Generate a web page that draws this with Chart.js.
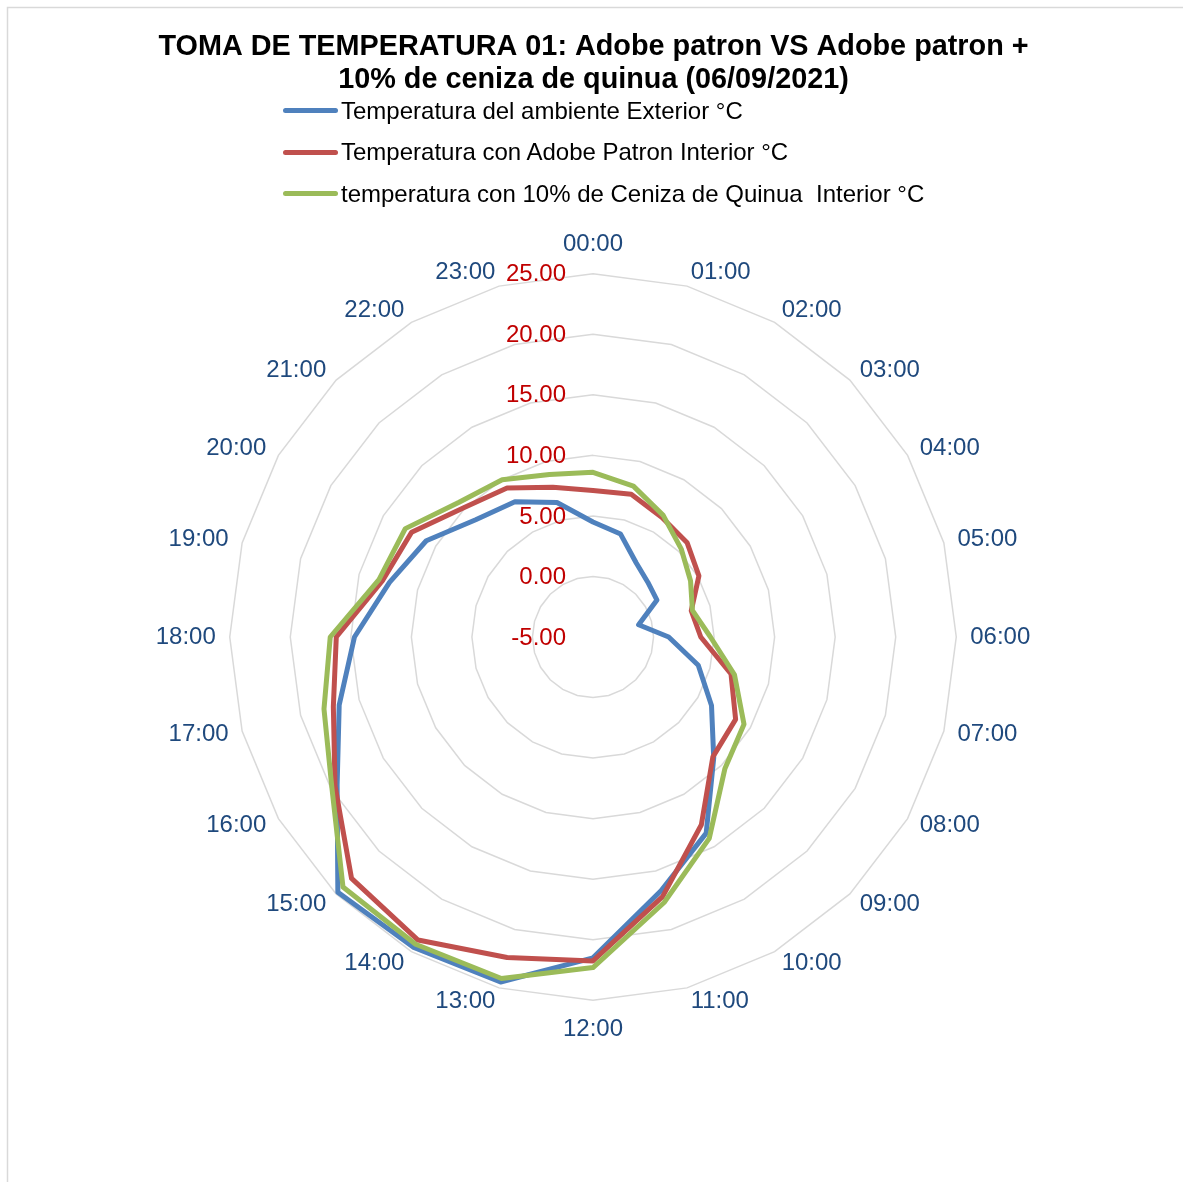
<!DOCTYPE html>
<html>
<head>
<meta charset="utf-8">
<script src="https://cdn.jsdelivr.net/npm/chart.js@4/dist/chart.umd.min.js"></script>
<style>
  html, body { margin: 0; padding: 0; background: #fff; }
  #wrap { position: relative; width: 1183px; height: 1182px; }
  #c { display: block; }
  #legend { position: absolute; left: 283px; top: 90px; font-family: "Liberation Sans", Arial, sans-serif; font-size: 24px; color: #000; }
  #legend .item { display: flex; align-items: center; height: 41.5px; white-space: pre; }
  #legend .swatch { width: 55px; height: 5px; border-radius: 3px; margin-right: 3px; }
</style>
</head>
<body>
<div id="wrap">
  <canvas id="c" width="1183" height="1182"></canvas>
  <div id="legend"></div>
</div>
<script>
// ---- data ----
const hours = ["00:00","01:00","02:00","03:00","04:00","05:00","06:00","07:00","08:00","09:00","10:00","11:00",
               "12:00","13:00","14:00","15:00","16:00","17:00","18:00","19:00","20:00","21:00","22:00","23:00"];
const exterior = [4.5, 3.8, 2.1, 1.4, 1.1, -1.1, 1.25, 4.0, 6.3, 9.1, 13.7, 16.7,
                  21.5, 24.5, 24.6, 24.8, 19.4, 16.7, 14.7, 12.4, 10.9, 8.7, 7.9, 6.5];
const adobePatron = [7.1, 7.2, 6.4, 6.0, 5.1, 3.4, 3.9, 6.8, 8.6, 9.0, 12.9, 17.2,
                     21.75, 22.4, 23.9, 23.2, 19.6, 17.2, 16.2, 13.0, 12.3, 10.1, 9.2, 7.8];
const cenizaQuinua = [8.6, 7.9, 6.6, 5.3, 4.3, 3.5, 4.7, 7.1, 9.4, 10.4, 14.2, 17.7,
                      22.3, 24.2, 24.3, 24.2, 19.9, 18.0, 16.7, 13.3, 12.9, 10.7, 10.0, 8.9];
const seriesNames = ["Temperatura del ambiente Exterior °C",
                     "Temperatura con Adobe Patron Interior °C",
                     "temperatura con 10% de Ceniza de Quinua  Interior °C"];
const titleLines = ["TOMA DE TEMPERATURA 01: Adobe patron VS Adobe patron +",
                    "10% de ceniza de quinua (06/09/2021)"];
const scaleMin = -5, scaleMax = 25, scaleStep = 5;

const FONT = '"Liberation Sans", Arial, sans-serif';
const colors = ["#4F81BD", "#C0504D", "#9BBB59"];

const borderPlugin = {
  id: 'frame',
  beforeDraw(chart) {
    const ctx = chart.ctx;
    ctx.save();
    ctx.fillStyle = '#fff';
    ctx.fillRect(0, 0, chart.width, chart.height);
    ctx.strokeStyle = '#D9D9D9';
    ctx.lineWidth = 1.5;
    ctx.beginPath();
    ctx.moveTo(7.5, chart.height + 2);
    ctx.lineTo(7.5, 7.5);
    ctx.lineTo(chart.width + 2, 7.5);
    ctx.stroke();
    ctx.restore();
  }
};

const tickLabelPlugin = {
  id: 'tickLabels',
  afterDatasetsDraw(chart) {
    const s = chart.scales.r;
    const ctx = chart.ctx;
    ctx.save();
    ctx.font = '24px ' + FONT;
    ctx.fillStyle = '#C00000';
    ctx.textAlign = 'right';
    ctx.textBaseline = 'middle';
    s.ticks.forEach(t => {
      const d = s.getDistanceFromCenterForValue(t.value);
      ctx.fillText(Number(t.value).toFixed(2), s.xCenter - 27, s.yCenter - d + 1);
    });
    ctx.restore();
  }
};

const htmlLegendPlugin = {
  id: 'htmlLegend',
  afterUpdate(chart) {
    const box = document.getElementById('legend');
    box.innerHTML = '';
    chart.data.datasets.forEach(ds => {
      const item = document.createElement('div');
      item.className = 'item';
      const sw = document.createElement('span');
      sw.className = 'swatch';
      sw.style.background = ds.borderColor;
      const tx = document.createElement('span');
      tx.textContent = ds.label;
      item.appendChild(sw);
      item.appendChild(tx);
      box.appendChild(item);
    });
  }
};

const values = [exterior, adobePatron, cenizaQuinua];
const datasets = values.map((v, i) => ({
  label: seriesNames[i],
  data: v,
  borderColor: colors[i],
  backgroundColor: colors[i],
  borderWidth: 5,
  pointRadius: 0,
  pointHoverRadius: 0,
  fill: false,
  tension: 0,
  borderJoinStyle: 'round',
  order: 3 - i
}));

new Chart(document.getElementById('c'), {
  type: 'radar',
  data: { labels: hours, datasets },
  options: {
    responsive: false,
    animation: false,
    devicePixelRatio: 1,
    layout: { padding: { left: 4, right: 0, top: 0, bottom: 137 } },
    plugins: {
      legend: { display: false },
      tooltip: { enabled: false },
      title: {
        display: true,
        text: titleLines,
        color: '#000',
        font: { family: FONT, size: 28.8, weight: 'bold', lineHeight: 1.15 },
        padding: { top: 30.5, bottom: 133 }
      }
    },
    scales: {
      r: {
        min: scaleMin, max: scaleMax,
        ticks: { stepSize: scaleStep, display: false, callback: v => Number(v).toFixed(2) },
        grid: { color: '#D9D9D9', lineWidth: 1.5 },
        angleLines: { display: false },
        pointLabels: {
          color: '#1F497D',
          font: (c) => ({ family: FONT, size: 24, lineHeight: (c.index % 12 === 0) ? 1.25 : 0.01 }),
          padding: 14
        }
      }
    }
  },
  plugins: [borderPlugin, tickLabelPlugin, htmlLegendPlugin]
});
</script>
</body>
</html>
